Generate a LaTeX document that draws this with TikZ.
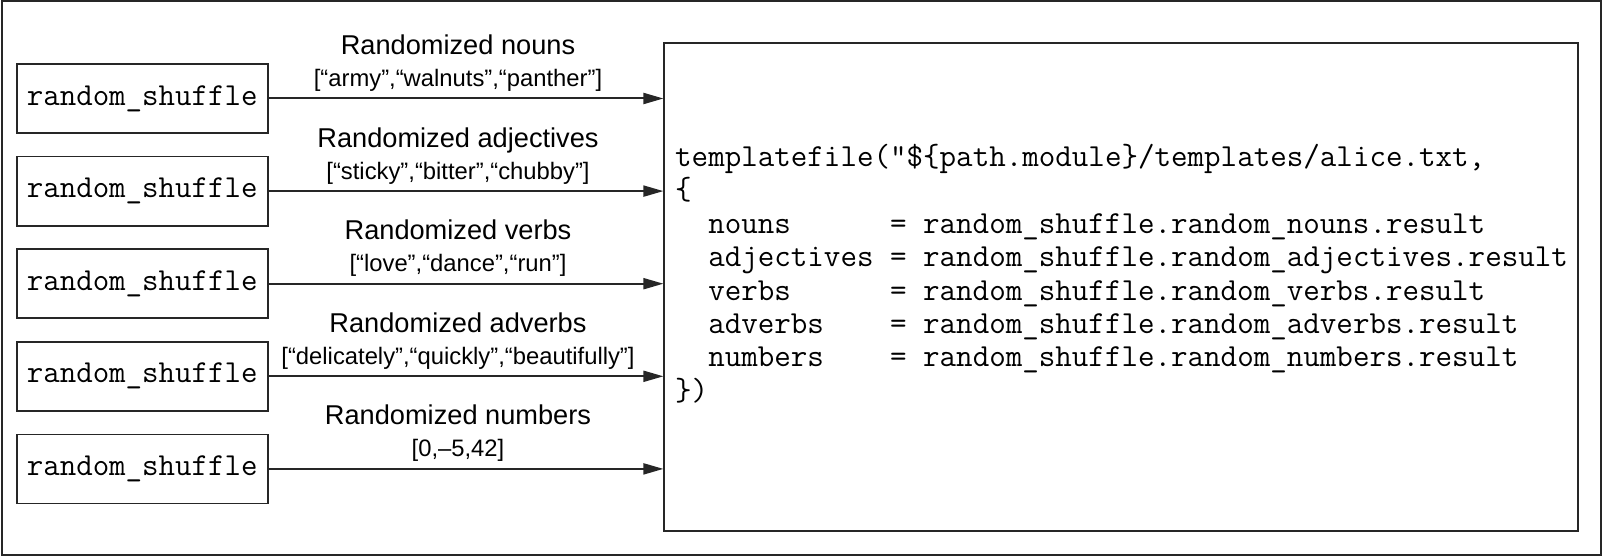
\documentclass[tikz,border=0pt]{standalone}
\usepackage{fontspec}
\setmainfont{Liberation Sans}
\usetikzlibrary{arrows.meta}
\begin{document}
\begin{tikzpicture}[x=1pt,y=-1pt,
  shufbox/.style={draw=black!85, line width=1.8pt, minimum width=251pt, minimum height=69pt, inner sep=0pt,
    font=\fontsize{32}{33}\selectfont\ttfamily},
  tplbox/.style={draw=black!85, line width=1.8pt, minimum width=914pt, minimum height=488pt, inner sep=0pt},
  lbl/.style={anchor=base, inner sep=0pt, font=\fontsize{27.2}{30}\selectfont},
  lst/.style={anchor=base, inner sep=0pt, font=\fontsize{23.8}{26}\selectfont},
  arr/.style={draw=black!85, line width=2pt, -{Triangle[length=20pt,width=11pt]}},
  code/.style={anchor=base west, inner sep=0pt, font=\fontsize{32.1}{33.3}\selectfont\ttfamily},
]
\useasboundingbox (0,0) rectangle (1603,556);
\draw[black!85, line width=2pt] (1.5,1.5) rectangle (1600.5,554.5);

% template box
\node[tplbox] (tpl) at (1121.3,286.7) {};

% shuffle boxes
\node[shufbox] (b1) at (142.2,98.5) {random\_shuffle};
\node[shufbox] (b2) at (142.2,191.1) {random\_shuffle};
\node[shufbox] (b3) at (142.2,283.7) {random\_shuffle};
\node[shufbox] (b4) at (142.2,376.3) {random\_shuffle};
\node[shufbox] (b5) at (142.2,468.9) {random\_shuffle};

% arrows
\draw[arr] (b1.east) -- (b1.east -| tpl.west);
\draw[arr] (b2.east) -- (b2.east -| tpl.west);
\draw[arr] (b3.east) -- (b3.east -| tpl.west);
\draw[arr] (b4.east) -- (b4.east -| tpl.west);
\draw[arr] (b5.east) -- (b5.east -| tpl.west);

% labels
\node[lbl] (t1) at (458,54.5) {Randomized nouns};
\node[lst] (l1) at (458,86.5) {[“army”,“walnuts”,“panther”]};
\node[lbl] (t2) at (458,147.1) {Randomized adjectives};
\node[lst] (l2) at (458,179.1) {[“sticky”,“bitter”,“chubby”]};
\node[lbl] (t3) at (458,239.7) {Randomized verbs};
\node[lst] (l3) at (458,271.7) {[“love”,“dance”,“run”]};
\node[lbl] (t4) at (458,332.3) {Randomized adverbs};
\node[lst] (l4) at (458,364.3) {[“delicately”,“quickly”,“beautifully”]};
\node[lbl] (t5) at (458,424.9) {Randomized numbers};
\node[lst] (l5) at (458,456.9) {[0,–5,42]};

% code
\node[code] (c1) at (675,166.7) {templatefile("\$\{path.module\}/templates/alice.txt,};
\node[code] (c2) at (675,200.0) {\{};
\node[code] (c3) at (675,233.3) {~~nouns~~~~~~=~random\_shuffle.random\_nouns.result};
\node[code] (c4) at (675,266.7) {~~adjectives~=~random\_shuffle.random\_adjectives.result};
\node[code] (c5) at (675,300.0) {~~verbs~~~~~~=~random\_shuffle.random\_verbs.result};
\node[code] (c6) at (675,333.3) {~~adverbs~~~~=~random\_shuffle.random\_adverbs.result};
\node[code] (c7) at (675,366.7) {~~numbers~~~~=~random\_shuffle.random\_numbers.result};
\node[code] (c8) at (675,400.0) {\})};
\end{tikzpicture}
\end{document}
